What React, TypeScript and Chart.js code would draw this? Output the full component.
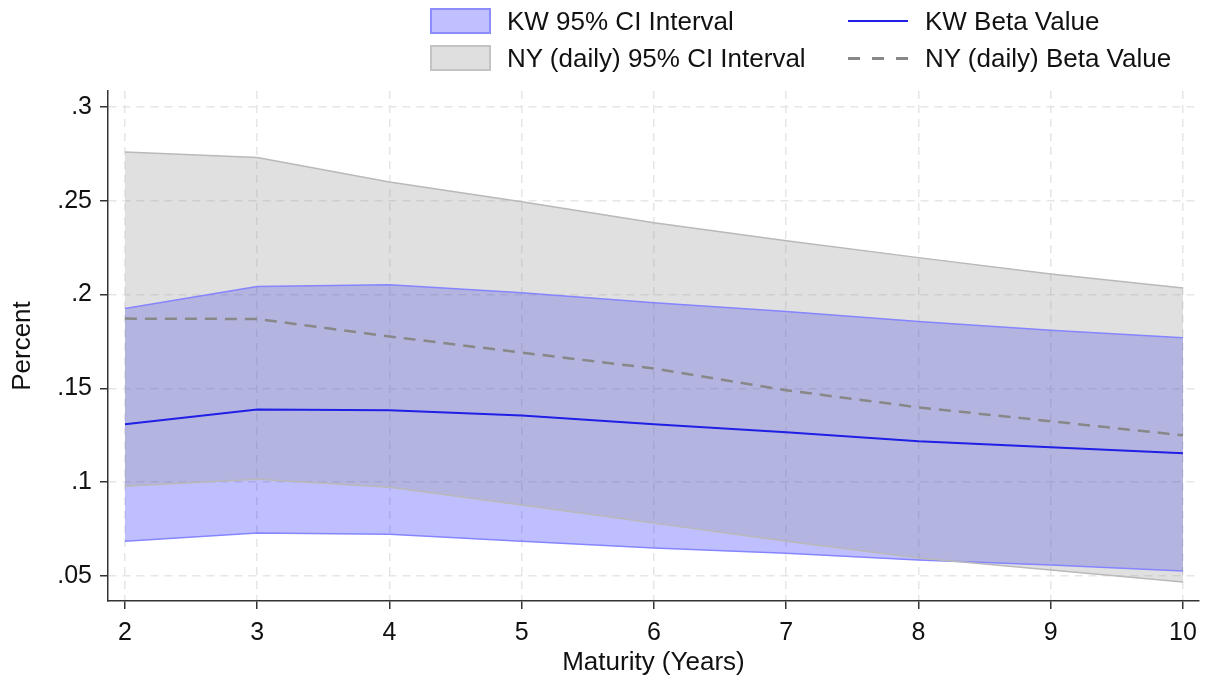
import React, { useEffect, useRef } from "react";
import { Chart, registerables } from "chart.js";

Chart.register(...registerables);

const maturities = [2, 3, 4, 5, 6, 7, 8, 9, 10];
const kwBeta = [0.1309, 0.1388, 0.1383, 0.1356, 0.1309, 0.1266, 0.1218, 0.1186, 0.1154];
const kwUpper = [0.1926, 0.2043, 0.2053, 0.201, 0.1957, 0.191, 0.1856, 0.181, 0.177];
const kwLower = [0.0686, 0.0729, 0.0723, 0.0686, 0.0649, 0.0622, 0.0585, 0.0559, 0.0527];
const nyBeta = [0.1872, 0.187, 0.1777, 0.1691, 0.1606, 0.149, 0.1399, 0.1325, 0.125];
const nyUpper = [0.276, 0.273, 0.26, 0.2495, 0.2383, 0.2287, 0.2197, 0.211, 0.2035];
const nyLower = [0.0979, 0.1016, 0.0973, 0.0878, 0.0782, 0.0686, 0.0596, 0.0532, 0.0468];

const yTickValues = [0.05, 0.1, 0.15, 0.2, 0.25, 0.3];
const yTickLabels = [".05", ".1", ".15", ".2", ".25", ".3"];
const xTickValues = [2, 3, 4, 5, 6, 7, 8, 9, 10];

const legendLabels = {
  kwCI: "KW 95% CI Interval",
  nyCI: "NY (daily) 95% CI Interval",
  kwBeta: "KW Beta Value",
  nyBeta: "NY (daily) Beta Value",
};

const FONT = "'Liberation Sans', Arial, Helvetica, sans-serif";

function pts(vals: number[]) {
  return maturities.map((x, i) => ({ x, y: vals[i] }));
}

export default function App() {
  const canvasRef = useRef<HTMLCanvasElement | null>(null);

  useEffect(() => {
    document.body.style.margin = "0";
    const ctx = canvasRef.current!.getContext("2d")!;
    const chart = new Chart(ctx, {
      type: "line",
      data: {
        datasets: [
          {
            label: legendLabels.kwBeta,
            data: pts(kwBeta),
            borderColor: "#1f1fe6",
            borderWidth: 2,
            pointRadius: 0,
            fill: false,
            order: 0,
          },
          {
            label: legendLabels.nyBeta,
            data: pts(nyBeta),
            borderColor: "#888888",
            borderWidth: 2.5,
            borderDash: [12, 8],
            pointRadius: 0,
            fill: false,
            order: 1,
          },
          {
            label: legendLabels.nyCI,
            data: pts(nyUpper),
            borderColor: "#b9b9b9",
            borderWidth: 1.5,
            backgroundColor: "rgba(152,152,152,0.3)",
            pointRadius: 0,
            fill: "+1",
            order: 2,
          },
          {
            label: "ny lower",
            data: pts(nyLower),
            borderColor: "#b9b9b9",
            borderWidth: 1.5,
            pointRadius: 0,
            fill: false,
            order: 3,
          },
          {
            label: legendLabels.kwCI,
            data: pts(kwUpper),
            borderColor: "#8585ff",
            borderWidth: 1.5,
            backgroundColor: "rgba(0,0,255,0.25)",
            pointRadius: 0,
            fill: "+1",
            order: 4,
          },
          {
            label: "kw lower",
            data: pts(kwLower),
            borderColor: "#8585ff",
            borderWidth: 1.5,
            pointRadius: 0,
            fill: false,
            order: 5,
          },
        ],
      },
      options: {
        animation: false,
        responsive: false,
        devicePixelRatio: 1,
        layout: { padding: { top: 91, right: 5, left: 0, bottom: 0 } },
        plugins: {
          legend: { display: false },
          tooltip: { enabled: false },
          filler: { drawTime: "beforeDatasetsDraw" },
        },
        elements: { line: { tension: 0 } },
        scales: {
          x: {
            type: "linear",
            min: 1.872,
            max: 10.12,
            afterBuildTicks: (scale: any) => {
              scale.ticks = xTickValues.map((v) => ({ value: v }));
            },
            afterFit: (scale: any) => {
              scale.height = 82;
            },
            ticks: {
              color: "#111",
              font: { family: FONT, size: 25 },
              padding: 9,
              maxRotation: 0,
              callback: (v: any) => String(v),
            },
            grid: {
              color: "#e6e6e6",
              lineWidth: 1.5,
              tickColor: "#333",
              tickLength: 8,
              tickWidth: 1.5,
              tickBorderDash: [],
            },
            border: { display: true, color: "#333", width: 1.5, dash: [8, 6] },
            title: {
              display: true,
              text: "Maturity (Years)",
              color: "#111",
              font: { family: FONT, size: 26 },
              padding: { top: 0, bottom: 5 },
            },
          },
          y: {
            type: "linear",
            min: 0.0367,
            max: 0.3085,
            afterBuildTicks: (scale: any) => {
              scale.ticks = yTickValues.map((v) => ({ value: v }));
            },
            afterFit: (scale: any) => {
              scale.width = 108;
            },
            ticks: {
              color: "#111",
              font: { family: FONT, size: 25 },
              padding: 8,
              callback: (v: any) => {
                const i = yTickValues.findIndex((t) => Math.abs(t - v) < 1e-9);
                return i >= 0 ? yTickLabels[i] : "";
              },
            },
            grid: {
              color: "#e6e6e6",
              lineWidth: 1.5,
              tickColor: "#333",
              tickLength: 8,
              tickWidth: 1.5,
              tickBorderDash: [],
            },
            border: { display: true, color: "#333", width: 1.5, dash: [8, 6] },
            title: {
              display: true,
              text: "Percent",
              color: "#111",
              font: { family: FONT, size: 26 },
              padding: { top: 7, bottom: 0 },
            },
          },
        },
      } as any,
    });
    return () => chart.destroy();
  }, []);

  const textStyle: React.CSSProperties = {
    position: "absolute",
    fontFamily: FONT,
    fontSize: 26,
    lineHeight: "30px",
    color: "#111",
    whiteSpace: "nowrap",
  };

  return (
    <div style={{ position: "absolute", left: 0, top: 0, width: 1206, height: 683, background: "#fff" }}>
      <canvas ref={canvasRef} width={1206} height={683} style={{ position: "absolute", left: 0, top: 0 }} />
      <div
        style={{
          position: "absolute",
          left: 430,
          top: 8,
          width: 57,
          height: 22,
          background: "#c0c0ff",
          border: "2px solid #8c8cff",
        }}
      />
      <div
        style={{
          position: "absolute",
          left: 430,
          top: 45,
          width: 57,
          height: 22,
          background: "#dfdfdf",
          border: "2px solid #c4c4c4",
        }}
      />
      <div style={{ ...textStyle, left: 507, top: 6 }}>{legendLabels.kwCI}</div>
      <div style={{ ...textStyle, left: 507, top: 43 }}>{legendLabels.nyCI}</div>
      <div style={{ position: "absolute", left: 848, top: 20, width: 60, height: 2, background: "#1f1fe6" }} />
      <div
        style={{
          position: "absolute",
          left: 848,
          top: 57,
          width: 60,
          height: 3,
          background: "repeating-linear-gradient(to right, #888 0px, #888 12px, transparent 12px, transparent 24px)",
        }}
      />
      <div style={{ ...textStyle, left: 925, top: 6 }}>{legendLabels.kwBeta}</div>
      <div style={{ ...textStyle, left: 925, top: 43 }}>{legendLabels.nyBeta}</div>
    </div>
  );
}
